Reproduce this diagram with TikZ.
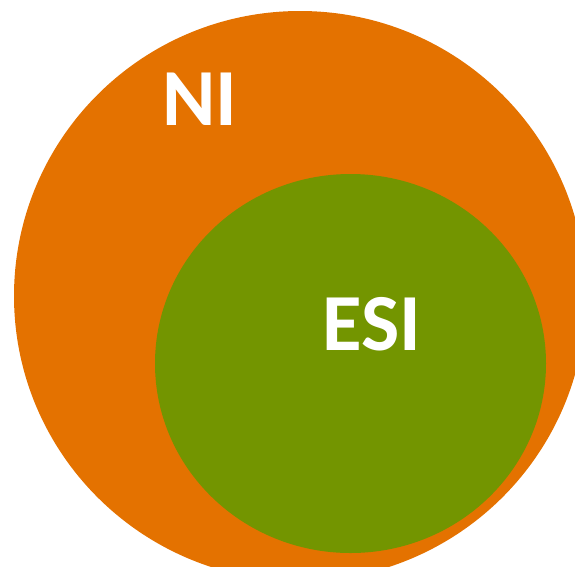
\documentclass[tikz,border=0pt]{standalone}
\usepackage{fontspec}
\setmainfont{Carlito}
\definecolor{niorange}{RGB}{228,114,0}
\definecolor{esigreen}{RGB}{115,149,0}
\begin{document}
\begin{tikzpicture}[x=1pt,y=-1pt,
  label/.style={text=white,font=\bfseries\fontsize{81}{81}\selectfont,inner sep=0pt,anchor=base}]
\useasboundingbox (0,0) rectangle (575,566);
\clip (0,0) rectangle (575,566);
\fill[niorange] (300,296) ellipse [x radius=286, y radius=285];
\fill[esigreen] (350.5,363.5) ellipse [x radius=195.5, y radius=189.5];
\node[label] (ni) at (199.5,125) {NI};
\node[label] (esi) at (371.5,350) {ESI};
\end{tikzpicture}
\end{document}
